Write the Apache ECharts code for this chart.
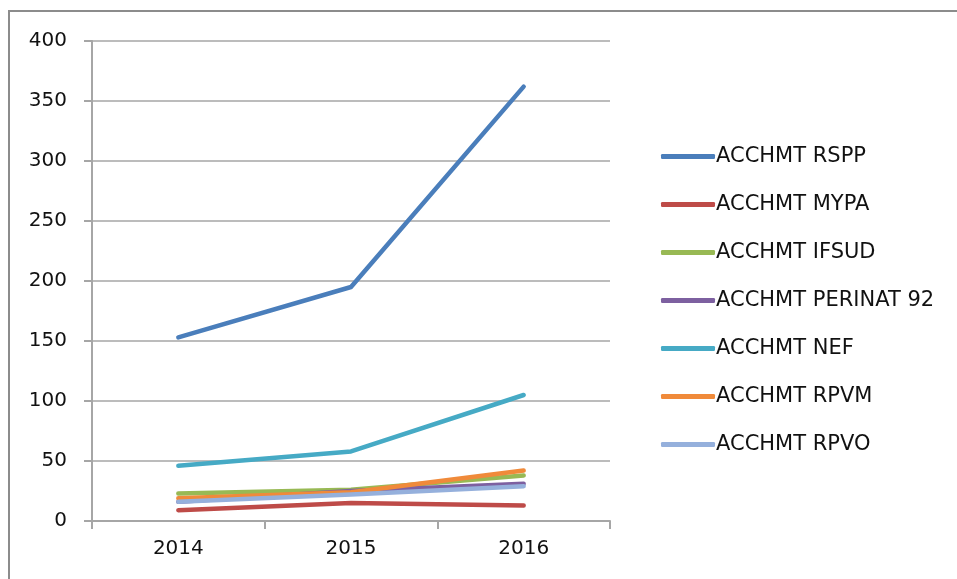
<!DOCTYPE html>
<html>
<head>
<meta charset="utf-8">
<script src="https://cdn.jsdelivr.net/npm/echarts@6/dist/echarts.min.js"></script>
<style>
  html, body { margin: 0; padding: 0; background: #fff; }
  #chart { width: 957px; height: 579px; }
</style>
</head>
<body>
<div id="chart"></div>
<script>
// 数据
const years = ['2014', '2015', '2016'];
const seriesNames = ['ACCHMT RSPP', 'ACCHMT MYPA', 'ACCHMT IFSUD', 'ACCHMT PERINAT 92', 'ACCHMT NEF', 'ACCHMT RPVM', 'ACCHMT RPVO'];
const rspp = [153, 195, 362];
const mypa = [9, 15, 13];
const ifsud = [23, 26, 38];
const perinat = [16, 25, 31];
const nef = [46, 58, 105];
const rpvm = [19, 24, 42];
const rpvo = [16, 22, 29];
const colors = ['#4a7ebb', '#be4b48', '#98b954', '#7d60a0', '#46aac5', '#f08a3a', '#95b0dc'];

const chart = echarts.init(document.getElementById('chart'));
const values = [rspp, mypa, ifsud, perinat, nef, rpvm, rpvo];

const option = {
    animation: false,
    color: colors,
    textStyle: { fontFamily: 'DejaVu Sans' },
    // 外框（上边和左边）
    graphic: [{
        type: 'polyline',
        shape: { points: [[9, 600], [9, 11], [960, 11]] },
        style: { stroke: '#8c8c8c', lineWidth: 2, fill: null }
    }],
    grid: { left: 92, right: 347, top: 41, bottom: 58 },
    legend: {
        orient: 'vertical',
        left: 656,
        top: 141,
        itemWidth: 54,
        itemHeight: 5,
        itemGap: 27,
        icon: 'roundRect',
        data: seriesNames,
        textStyle: { fontSize: 21, color: '#111', padding: [0, 0, 0, -4] }
    },
    xAxis: {
        type: 'category',
        data: years,
        boundaryGap: true,
        axisLine: { lineStyle: { color: '#a6a6a6', width: 2 } },
        axisTick: { show: true, length: 8, lineStyle: { color: '#a6a6a6', width: 2 } },
        axisLabel: { fontSize: 20, color: '#111', margin: 18 }
    },
    yAxis: {
        type: 'value',
        min: 0,
        max: 400,
        interval: 50,
        axisLine: { show: true, lineStyle: { color: '#a6a6a6', width: 2 } },
        axisTick: { show: true, length: 8, lineStyle: { color: '#a6a6a6', width: 2 } },
        splitLine: { lineStyle: { color: '#a6a6a6', width: 1.5 } },
        axisLabel: { fontSize: 20, color: '#111', margin: 25 }
    },
    series: seriesNames.map((name, i) => ({
        name: name,
        type: 'line',
        data: values[i],
        symbol: 'none',
        lineStyle: { width: 4.5, color: colors[i], cap: 'round', join: 'round' },
        itemStyle: { color: colors[i] }
    }))
};
chart.setOption(option);
</script>
</body>
</html>
